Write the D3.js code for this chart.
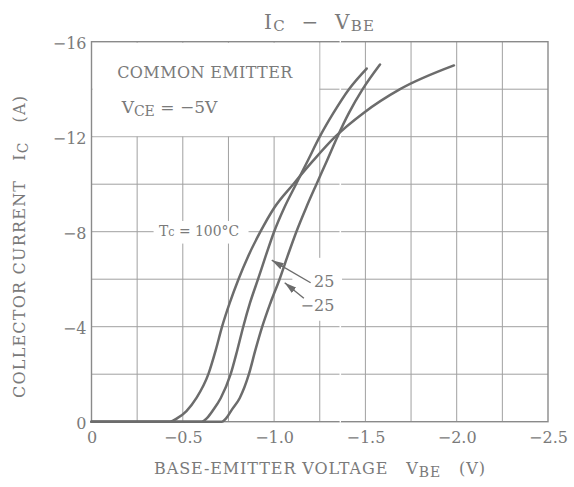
<!DOCTYPE html>
<html><head><meta charset="utf-8">
<script src="https://cdn.jsdelivr.net/npm/d3@7"></script>
<style>
body{margin:0;background:#fff}
svg{display:block}
text{font-family:"DejaVu Serif","Liberation Serif",serif;fill:#7a7a7a;white-space:pre}
</style>
</head><body>
<svg id="chart" width="574" height="487"></svg>
<script>
// ---- data ----
const xTicks = [0, -0.5, -1.0, -1.5, -2.0, -2.5];
const xTickLabels = ["0", "−0.5", "−1.0", "−1.5", "−2.0", "−2.5"];
const yTicks = [0, -4, -8, -12, -16];
const yTickLabels = ["0", "−4", "−8", "−12", "−16"];
const xGrid = [-0.25, -0.5, -0.75, -1.0, -1.25, -1.5, -1.75, -2.0, -2.25];
const yGrid = [-2, -4, -6, -8, -10, -12, -14];

// Tc = 100 °C
const vbe100 = [0, -0.43, -0.47, -0.52, -0.575, -0.64, -0.68, -0.715, -0.757, -0.805, -0.86, -0.925, -1.0, -1.105, -1.215, -1.335, -1.49, -1.69, -1.985];
const ic100  = [0, 0, -0.15, -0.45, -1, -2, -3, -4, -5, -6, -7, -8, -9, -10, -11, -12, -13, -14, -15.0];
// Tc = 25 °C
const vbe25 = [0, -0.603, -0.632, -0.667, -0.708, -0.762, -0.798, -0.831, -0.868, -0.912, -0.955, -1.0, -1.055, -1.12, -1.185, -1.25, -1.325, -1.41, -1.507];
const ic25  = [0, 0, -0.15, -0.5, -1, -2, -3, -4, -5, -6, -7, -8, -9, -10, -11, -12, -13, -14, -14.87];
// Tc = -25 °C
const vbeM25 = [0, -0.713, -0.738, -0.768, -0.812, -0.862, -0.897, -0.935, -0.98, -1.03, -1.075, -1.122, -1.175, -1.232, -1.29, -1.347, -1.41, -1.485, -1.58];
const icM25  = [0, 0, -0.15, -0.5, -1, -2, -3, -4, -5, -6, -7, -8, -9, -10, -11, -12, -13, -14, -15.04];

// ---- chart ----
const svg = d3.select("#chart");
const x = d3.scaleLinear().domain([0, -2.5]).range([91.5, 548]);
const y = d3.scaleLinear().domain([0, -16]).range([421.7, 41.7]);

const gridColor = "#a0a0a0";
const curveColor = "#6c6c6c";

// grid lines
svg.append("g").selectAll("line").data(xGrid).join("line")
  .attr("x1", d => x(d)).attr("x2", d => x(d))
  .attr("y1", y(-16)).attr("y2", y(0))
  .attr("stroke", gridColor).attr("stroke-width", 1);
svg.append("g").selectAll("line").data(yGrid).join("line")
  .attr("x1", x(0)).attr("x2", x(-2.5))
  .attr("y1", d => y(d)).attr("y2", d => y(d))
  .attr("stroke", gridColor).attr("stroke-width", 1);

// white backgrounds behind in-plot annotations
const bg = svg.append("g").attr("fill", "#fff");
bg.append("rect").attr("x", x(0) + 1).attr("y", y(-16) + 1)
  .attr("width", x(-1.25) - x(0) - 1.5).attr("height", y(-12) - y(-16) - 1.5);
bg.append("rect").attr("x", x(-0.34)).attr("y", y(-8.45))
  .attr("width", x(-0.86) - x(-0.34)).attr("height", y(-7.5) - y(-8.45));
bg.append("rect").attr("x", x(-1.1)).attr("y", y(-6.9))
  .attr("width", x(-1.372) - x(-1.1)).attr("height", y(-4.25) - y(-6.9));
// scan streak
bg.append("rect").attr("x", 339.5).attr("y", y(-16) - 1).attr("width", 1.6).attr("height", y(0) - y(-16) + 2);

// frame
svg.append("rect").attr("x", x(0)).attr("y", y(-16))
  .attr("width", x(-2.5) - x(0)).attr("height", y(0) - y(-16))
  .attr("fill", "none").attr("stroke", "#8a8a8a").attr("stroke-width", 1.4);
svg.append("rect").attr("x", 339.6).attr("y", y(0) - 1).attr("width", 1.4).attr("height", 2).attr("fill", "#fff");
svg.append("rect").attr("x", 339.6).attr("y", y(-16) - 1).attr("width", 1.4).attr("height", 2).attr("fill", "#fff");

// axes tick labels (d3 axes with the domain line hidden)
const xAxis = d3.axisBottom(x).tickValues(xTicks).tickSize(0).tickPadding(0)
  .tickFormat((d, i) => xTickLabels[i]);
const gx = svg.append("g").attr("transform", `translate(0,${y(0) + 21})`).call(xAxis);
gx.select(".domain").remove();
gx.selectAll("text").attr("font-family", "DejaVu Serif").attr("font-size", 16).attr("fill", "#7a7a7a").attr("dy", 0);

const yAxis = d3.axisLeft(y).tickValues(yTicks).tickSize(0).tickPadding(0)
  .tickFormat((d, i) => yTickLabels[i]);
const gy = svg.append("g").attr("transform", `translate(${x(0) - 5},0)`).call(yAxis);
gy.select(".domain").remove();
gy.selectAll("text").attr("font-family", "DejaVu Serif").attr("font-size", 16).attr("fill", "#7a7a7a").attr("dy", "0.45em");

// curves
const line = d3.line().x(d => x(d[0])).y(d => y(d[1])).curve(d3.curveMonotoneX);
const series = [
  d3.zip(vbe100, ic100),
  d3.zip(vbe25, ic25),
  d3.zip(vbeM25, icM25)
];
svg.append("g").selectAll("path").data(series).join("path")
  .attr("d", line).attr("fill", "none")
  .attr("stroke", curveColor).attr("stroke-width", 2.5)
  .attr("stroke-linejoin", "round").attr("stroke-linecap", "round");

// arrows
svg.append("defs").append("marker").attr("id", "ah")
  .attr("viewBox", "0 0 12 7").attr("refX", 12).attr("refY", 3.5)
  .attr("markerWidth", 12).attr("markerHeight", 7).attr("markerUnits", "userSpaceOnUse")
  .attr("orient", "auto")
  .append("path").attr("d", "M0,0 L12,3.5 L0,7 Z").attr("fill", "#6c6c6c");
const arrows = [
  {from: [-1.2, -5.85], to: [-0.987, -6.8]},
  {from: [-1.163, -5.2], to: [-1.058, -5.85]}
];
svg.append("g").selectAll("line").data(arrows).join("line")
  .attr("x1", d => x(d.from[0])).attr("y1", d => y(d.from[1]))
  .attr("x2", d => x(d.to[0])).attr("y2", d => y(d.to[1]))
  .attr("stroke", "#6c6c6c").attr("stroke-width", 1.4)
  .attr("marker-end", "url(#ah)");

// annotations
svg.append("text").attr("x", x(-0.141)).attr("y", 78).attr("font-size", 16)
  .attr("textLength", 175).attr("lengthAdjust", "spacing")
  .text("COMMON EMITTER");
const vce = svg.append("text").attr("x", x(-0.165)).attr("y", 113).attr("font-size", 17);
vce.append("tspan").text("V");
vce.append("tspan").attr("font-size", 14).attr("dy", 3).text("CE");
vce.append("tspan").attr("dy", -3).text(" = −5V");

const tc = svg.append("text").attr("x", x(-0.37)).attr("y", 236).attr("font-size", 15)
  .attr("textLength", 80).attr("lengthAdjust", "spacingAndGlyphs");
tc.append("tspan").text("T");
tc.append("tspan").attr("font-size", 12).text("c");
tc.append("tspan").text(" = 100°C");

svg.append("text").attr("x", x(-1.33)).attr("y", 287).attr("font-size", 16).attr("text-anchor", "end").text("25");
svg.append("text").attr("x", x(-1.33)).attr("y", 311).attr("font-size", 16).attr("text-anchor", "end").text("−25");

// title
const title = svg.append("text").attr("x", 319).attr("y", 29).attr("text-anchor", "middle").attr("font-size", 20)
  .attr("textLength", 110).attr("lengthAdjust", "spacing");
title.append("tspan").text("I");
title.append("tspan").attr("font-size", 15).attr("dy", 2).text("C");
title.append("tspan").attr("dy", -2).text("  −  V");
title.append("tspan").attr("font-size", 15).attr("dy", 2).text("BE");

// axis titles
const xt = svg.append("text").attr("x", 319.5).attr("y", 474).attr("text-anchor", "middle").attr("font-size", 16)
  .attr("textLength", 331).attr("lengthAdjust", "spacing");
xt.append("tspan").text("BASE-EMITTER VOLTAGE   V");
xt.append("tspan").attr("font-size", 14).attr("dy", 3).text("BE");
xt.append("tspan").attr("dy", -3).text("   (V)");

const yt = svg.append("text").attr("transform", "translate(25,247) rotate(-90)")
  .attr("text-anchor", "middle").attr("font-size", 16)
  .attr("textLength", 302).attr("lengthAdjust", "spacing");
yt.append("tspan").text("COLLECTOR CURRENT   I");
yt.append("tspan").attr("font-size", 14).attr("dy", 3).text("C");
yt.append("tspan").attr("dy", -3).text("   (A)");
</script>
</body></html>
